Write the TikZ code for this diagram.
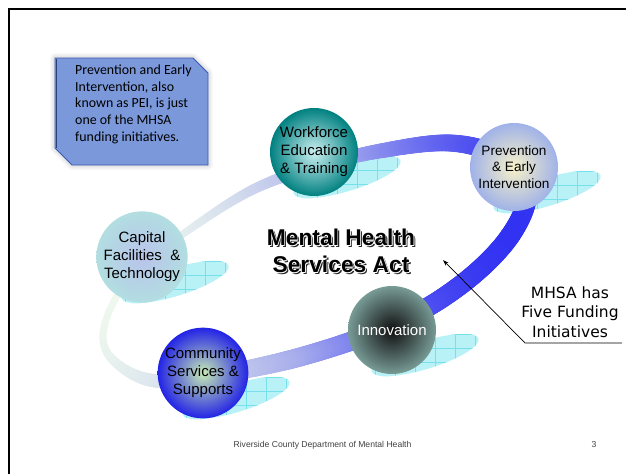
\documentclass[tikz,border=0pt]{standalone}
\usepackage{fontspec}
\setmainfont{Liberation Sans}
\newfontfamily\notefont{Carlito}
\newfontfamily\labelfont{DejaVu Sans}
\usetikzlibrary{decorations.markings,arrows.meta}

% palette
\definecolor{bandDark}{RGB}{50,50,242}
\definecolor{bandMid}{RGB}{168,174,236}
\definecolor{bandPale}{RGB}{238,248,238}
\definecolor{glintCyan}{RGB}{184,241,246}
\definecolor{glintGrid}{RGB}{120,224,234}
\definecolor{noteFill}{RGB}{122,152,218}
\definecolor{noteEdge}{RGB}{60,90,180}

\tikzset{
  orb/.style={circle, minimum size=88pt, inner sep=0pt, align=center,
    font=\fontsize{15}{18}\selectfont},
  notetext/.style={inner sep=0pt, align=left, text=black,
    font=\notefont\fontsize{13.9}{16.7}\selectfont},
  titletext/.style={inner sep=0pt, align=center,
    font=\bfseries\fontsize{22.8}{27}\selectfont},
  calloutlabel/.style={inner sep=0pt, align=center,
    font=\labelfont\fontsize{15.5}{19.5}\selectfont},
  leader/.style={draw=black, line width=0.7pt},
  footer/.style={inner sep=0pt, text=black!75, font=\fontsize{8.6}{10}\selectfont},
}

% one brush dot of the ring; colour and width follow the position along the loop
\newcommand\bandbrush{%
  \pgfmathsetmacro\bandg{360*(\pgfkeysvalueof{/pgf/decoration/mark info/distance from start}/\pgfdecoratedpathlength)}%
  \pgfmathsetmacro\bandd{50*(1+cos(\bandg))}%
  \pgfmathsetmacro\banda{max(0,2*\bandd-100)}%
  \pgfmathsetmacro\bandb{min(100,2*\bandd)}%
  \pgfmathsetmacro\bandc{\bandd>50 ? 100 : 0}%
  \pgfmathsetmacro\bandr{0.5*(\bandg<90 ? 20-\bandg/90 : (\bandg<128 ? 19-3*(\bandg-90)/38 : (\bandg<160 ? 16-8.5*(\bandg-128)/32 : (\bandg<200 ? 7.5-(\bandg-160)/40 : (\bandg<255 ? 6.5+5.5*(\bandg-200)/55 : (\bandg<330 ? 12+7*(\bandg-255)/75 : 19+(\bandg-330)/30))))))}%
  \colorlet{bandA}{bandDark!\banda!bandMid}%
  \colorlet{bandB}{bandMid!\bandb!bandPale}%
  \fill[bandA!\bandc!bandB] (0,0) circle[radius=\bandr pt];%
}

% cyan reflection under an orb
\newcommand\glintat[2]{%
  \begin{scope}
    \clip[rotate around={17:(#1,#2)}] (#1,#2) ellipse[x radius=56pt, y radius=14pt];
    \fill[glintCyan] (#1-60,#2-40) rectangle (#1+60,#2+40);
    \foreach \gx in {-50,-30,...,50}
      \draw[glintGrid, line width=0.5pt] (#1+\gx,#2-40) -- (#1+\gx,#2+40);
    \foreach \gy in {-21,-7,7,21}
      \draw[glintGrid, line width=0.5pt] (#1-60,#2+\gy) -- (#1+60,#2+\gy);
  \end{scope}}

\begin{document}
\begin{tikzpicture}[x=1pt,y=-1pt]
\useasboundingbox (0,0) rectangle (626,474);

% slide frame
\draw[line width=2pt] (8.5,474) -- (8.5,9) -- (626,9);

% note box with soft shadow
\foreach \k in {1,...,5}
  \draw[black, opacity=0.025, line width=2*\k pt, line join=round]
    (55,58) -- (193,58) -- (208,73) -- (208,165) -- (72,165) -- (55,148) -- cycle;
\draw[fill=noteFill, draw=noteEdge, line width=0.8pt]
  (55,58) -- (193,58) -- (208,73) -- (208,165) -- (72,165) -- (55,148) -- cycle;
\draw[noteEdge!70!black, line width=1.2pt] (56.5,59) -- (56.5,147.5);
\node[notetext, anchor=north west] (note) at (75,64.5)
  {Prevention and Early\\Intervention, also\\known as PEI, is just\\one of the MHSA\\funding initiatives.};

% reflections
\glintat{347}{177}
\glintat{547}{192}
\glintat{175}{282}
\glintat{236}{398}
\glintat{425}{355}

% the ring
\path[decorate, decoration={markings,
    mark=between positions 0 and 1 step 1.5pt with {\bandbrush}}]
  plot[smooth cycle, tension=0.6] coordinates {
    (527,190) (510,236) (462,284) (395,324) (300,357) (203,377) (150,380)
    (114,361) (103,335) (117,296) (148,262) (183,234) (250,191) (314,167)
    (380,151) (450,143) (500,157)};

% the five initiatives
\node[orb, inner color={rgb,255:red,205;green,240;blue,242}, outer color={rgb,255:red,0;green,128;blue,128}]
  (wet) at (314,152) {Workforce\\Education\\\& Training};
\node[orb, font=\fontsize{13.6}{16.5}\selectfont,
  inner color={rgb,255:red,248;green,242;blue,200}, outer color={rgb,255:red,160;green,178;blue,232}]
  (pei) at (514,167) {Prevention\\\& Early\\Intervention};
\node[orb, inner color={rgb,255:red,185;green,195;blue,235}, outer color={rgb,255:red,178;green,222;blue,225}]
  (cft) at (142,257) {Capital\\Facilities~~\&\\Technology};
\node[orb, inner color={rgb,255:red,200;green,235;blue,180}, outer color={rgb,255:red,35;green,35;blue,230}]
  (css) at (203,373) {Community\\Services \&\\Supports};
\node[orb, text=white, inner color={rgb,255:red,15;green,15;blue,15}, outer color={rgb,255:red,120;green,155;blue,150}]
  (inn) at (392,330) {Innovation};

% title: drop shadow, thin white rim, black face
\node[titletext, text=black!85] (titleshadow) at (342.8,252.8) {Mental Health\\Services Act};
\foreach \dx/\dy in {0.6/0.6,-0.6/0.6,0.6/-0.6,-0.6/-0.6}
  \node[titletext, text=white] at (341+\dx,251+\dy) {Mental Health\\Services Act};
\node[titletext, text=black] (title) at (341,251) {Mental Health\\Services Act};

% callout
\node[calloutlabel] (mhsa) at (570,312) {MHSA has\\Five Funding\\Initiatives};
\coordinate (leaderend) at (622,343);
\coordinate (elbow) at (525,343);
\coordinate (pointer) at (443,260);
\draw[leader, -{Stealth[length=6pt,width=4pt]}] (leaderend) -- (elbow) -- (pointer);

% footer
\node[footer] (dept) at (322.5,445) {Riverside County Department of Mental Health};
\node[footer] (pageno) at (594,445) {3};
\end{tikzpicture}
\end{document}
